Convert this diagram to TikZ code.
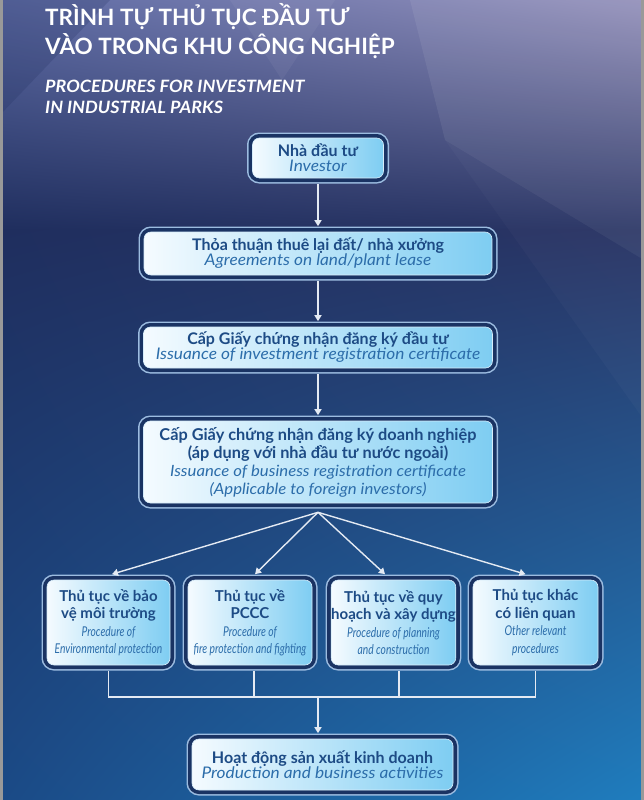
\documentclass[tikz,border=0pt]{standalone}
\usepackage{fontspec}
\setmainfont{Lato}
\newfontfamily\condfont{Lato}[FakeStretch=0.76]
\newfontfamily\widefont{Lato}[FakeStretch=1.08]
\newfontfamily\subfont{Lato}[FakeStretch=1.06]
\usetikzlibrary{arrows.meta,calc,shadings}
\definecolor{vn}{HTML}{1D4B85}
\definecolor{en}{HTML}{2C6DAA}
\definecolor{boxL}{HTML}{F5FBFF}
\definecolor{boxR}{HTML}{7ECDF2}
\definecolor{boxEdge}{HTML}{D6ECFA}
\definecolor{ringC}{HTML}{9CBCE0}
\definecolor{gapC}{HTML}{1A3363}
\definecolor{arrC}{HTML}{E4EAF3}
\definecolor{bgA}{HTML}{5E6BA4}
\definecolor{bgB}{HTML}{9390BA}
\definecolor{bgC}{HTML}{1F2E5E}
\definecolor{bgD}{HTML}{2A3565}
\definecolor{bgE}{HTML}{1B4A86}
\definecolor{bgF}{HTML}{1F7DBE}
\newcommand\en[1]{{\widefont\mdseries\itshape\color{en}#1}}
\newcommand\enc[1]{{\condfont\mdseries\itshape\color{en}\fontsize{13.5}{17.5}\selectfont#1}}
\begin{document}
\begin{tikzpicture}[x=1pt,y=-1pt,
  box/.style={rounded corners=7pt, left color=boxL, right color=boxR, draw=boxEdge,
    line width=0.6pt, inner sep=0pt, align=center, text=vn,
    preaction={draw=ringC, line width=11pt},
    preaction={draw=gapC, line width=8pt}},
  mainfont/.style={font=\bfseries\fontsize{16}{15}\selectfont},
  bigfont/.style={font=\bfseries\fontsize{16.3}{18}\selectfont},
  smallfont/.style={font=\bfseries\fontsize{15}{17.5}\selectfont},
  arr/.style={draw=arrC, line width=1.4pt, -{Triangle[width=7pt,length=6pt]}},
  ln/.style={draw=arrC, line width=1.4pt},
  ttl/.style={anchor=base west, text=white, font=\bfseries\fontsize{22.5}{24}\selectfont, inner sep=0pt},
  sub/.style={anchor=base west, text=white, font=\subfont\bfseries\itshape\fontsize{17}{18}\selectfont, inner sep=0pt}
]
\useasboundingbox (0,0) rectangle (644,800);
% background
\shade[upper left=bgA, upper right=bgB, lower left=bgC, lower right=bgD] (0,0) rectangle (644,230);
\shade[upper left=bgC, upper right=bgD, lower left=bgE, lower right=bgF] (0,229.5) rectangle (644,800);
\fill[white, opacity=0.07] (410,0) -- (644,0) -- (644,260) -- (445,140) -- cycle;
\fill[white, opacity=0.05] (230,0) -- (335,0) -- (282,80) -- cycle;
\fill[bgC, opacity=0.22] (0,0) -- (110,0) -- (0,115) -- cycle;
\fill[white, opacity=0.025] (445,140) -- (644,260) -- (644,420) -- cycle;
\fill[gray!80] (0,0) rectangle (2.7,800);
\fill[gray!80] (640.5,0) rectangle (644,800);
% titles
\node[ttl] (t1) at (45,26) {TRÌNH TỰ THỦ TỤC ĐẦU TƯ};
\node[ttl] (t2) at (45,55) {VÀO TRONG KHU CÔNG NGHIỆP};
\node[sub] (s1) at (45,92.3) {PROCEDURES FOR INVESTMENT};
\node[sub] (s2) at (45,113) {IN INDUSTRIAL PARKS};
% main boxes
\node[box, mainfont, minimum width=131pt, minimum height=40pt] (b1) at (318,158)
  {Nhà đầu tư\\\en{Investor}};
\node[box, mainfont, minimum width=348pt, minimum height=43pt] (b2) at (318,253.5)
  {Thỏa thuận thuê lại đất/ nhà xưởng\\\en{Agreements on land/plant lease}};
\node[box, mainfont, minimum width=349pt, minimum height=41pt] (b3) at (318,347.5)
  {Cấp Giấy chứng nhận đăng ký đầu tư\\\en{Issuance of investment registration certificate}};
\node[box, bigfont, minimum width=349pt, minimum height=82pt] (b4) at (318,462)
  {Cấp Giấy chứng nhận đăng ký doanh nghiệp\\(áp dụng với nhà đầu tư nước ngoài)\\\en{\fontsize{15.5}{18}\selectfont Issuance of business registration certificate}\\\en{\fontsize{15.5}{18}\selectfont (Applicable to foreign investors)}};
\node[box, smallfont, minimum width=123pt, minimum height=85pt] (sA) at (108.5,622.5)
  {Thủ tục về bảo\\vệ môi trường\\\enc{Procedure of}\\\enc{Environmental protection}};
\node[box, smallfont, minimum width=124pt, minimum height=85pt] (sB) at (250,622.5)
  {Thủ tục về\\PCCC\\\enc{Procedure of}\\\enc{fire protection and fighting}};
\node[box, smallfont, minimum width=123pt, minimum height=85pt] (sC) at (393.5,622.5)
  {Thủ tục về quy\\hoạch và xây dựng\\\enc{Procedure of planning}\\\enc{and construction}};
\node[box, smallfont, minimum width=125pt, minimum height=85pt] (sD) at (535.5,622.5)
  {Thủ tục khác\\có liên quan\\\enc{Other relevant}\\\enc{procedures}};
\node[box, mainfont, minimum width=261pt, minimum height=51pt] (b5) at (322.5,764.5)
  {Hoạt động sản xuất kinh doanh\\\en{Production and business activities}};
% connectors
\draw[arr, shorten <=5.5pt, shorten >=5.5pt] (b1.south) -- (b2.north);
\draw[arr, shorten <=5.5pt, shorten >=5.5pt] (b2.south) -- (b3.north);
\draw[arr, shorten <=5.5pt, shorten >=5.5pt] (b3.south) -- (b4.north);
\coordinate (fan) at ([yshift=-9pt]b4.south);
\draw[arr] (fan) -- ([xshift=3.5pt,yshift=5.5pt]sA.north);
\draw[arr] (fan) -- ([xshift=5pt,yshift=5.5pt]sB.north);
\draw[arr] (fan) -- ([xshift=-8.5pt,yshift=5.5pt]sC.north);
\draw[arr] (fan) -- ([xshift=-10pt,yshift=5.5pt]sD.north);
\coordinate (join) at (318,697);
\draw[ln] ([yshift=-5.5pt]sA.south) |- (sD.south |- join) -- ([yshift=-5.5pt]sD.south);
\draw[ln] ([xshift=4pt,yshift=-5.5pt]sB.south) -- ([xshift=4pt]sB.south |- join);
\draw[ln] ([xshift=5.5pt,yshift=-5.5pt]sC.south) -- ([xshift=5.5pt]sC.south |- join);
\draw[arr, shorten >=5.5pt] (join) -- (join |- b5.north);
\end{tikzpicture}
\end{document}
